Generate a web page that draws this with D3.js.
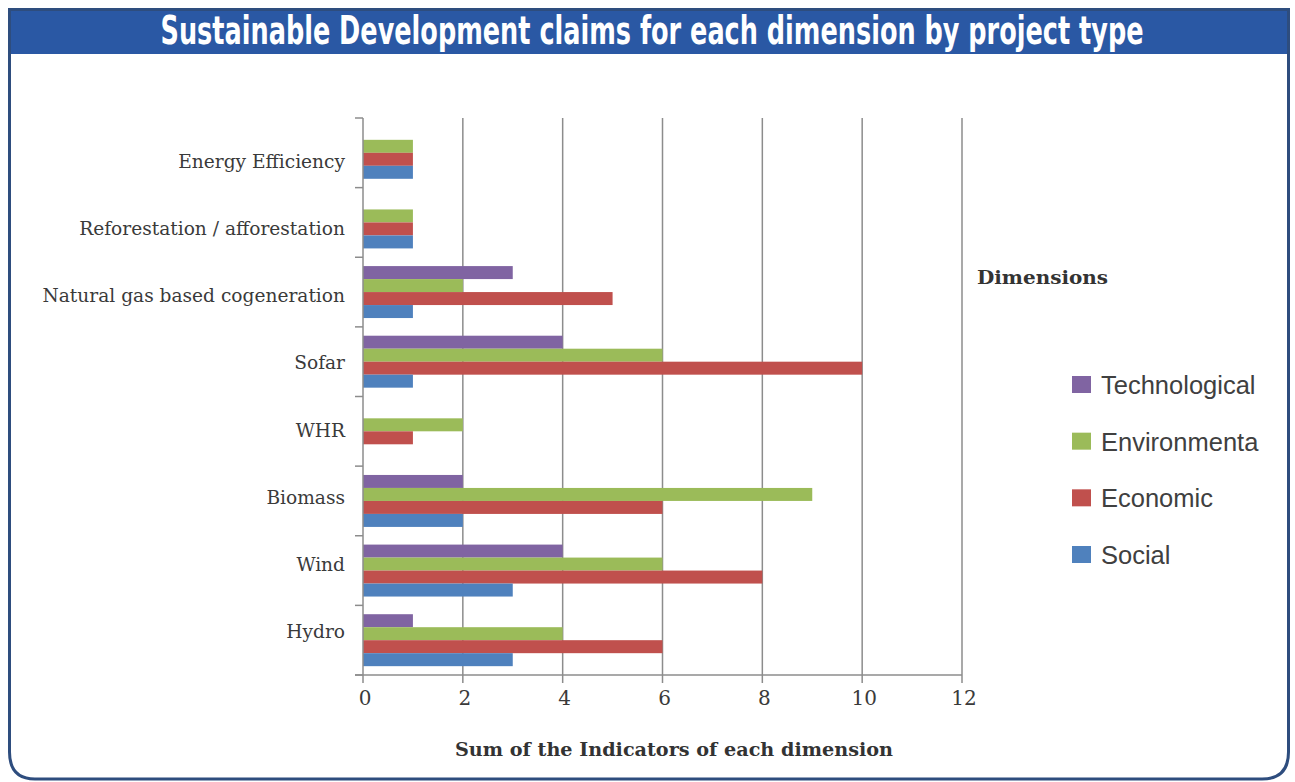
<!DOCTYPE html>
<html>
<head>
<meta charset="utf-8">
<script src="https://cdn.jsdelivr.net/npm/d3@7"></script>
<style>
  body { margin: 0; background: #fff; }
  svg { display: block; }
</style>
</head>
<body>
<svg id="chart" width="1295" height="782"></svg>
<script>
// project types, top to bottom
const projects = ["Energy Efficiency", "Reforestation / afforestation", "Natural gas based cogeneration",
                  "Sofar", "WHR", "Biomass", "Wind", "Hydro"];
// dimensions, in the legend's order (top bar first)
const dimensions = ["Technological", "Environmenta", "Economic", "Social"];
const technological = [0, 0, 3, 4, 0, 2, 4, 1];
const environmental = [1, 1, 2, 6, 2, 9, 6, 4];
const economic      = [1, 1, 5, 10, 1, 6, 8, 6];
const social        = [1, 1, 1, 1, 0, 2, 3, 3];
const xTicks = [0, 2, 4, 6, 8, 10, 12];
const colors = ["#8064a2", "#9bbb59", "#c0504d", "#4f81bd"];

const series = [technological, environmental, economic, social];

const svg = d3.select("#chart");

// frame with rounded bottom corners
svg.append("path")
  .attr("d", "M9.5,9.5 H1288.5 V752 Q1288.5,779 1262,779 H35 Q9.5,779 9.5,752 Z")
  .attr("fill", "#fff")
  .attr("stroke", "#2e4d7e")
  .attr("stroke-width", 3);

svg.append("rect")
  .attr("x", 11).attr("y", 11).attr("width", 1276).attr("height", 43)
  .attr("fill", "#2a58a4");

// condensed title: smaller font stretched vertically
svg.append("text")
  .attr("transform", "translate(652,44) scale(1,1.42)")
  .attr("text-anchor", "middle")
  .attr("fill", "#fff")
  .attr("font-family", "'DejaVu Sans Condensed', 'DejaVu Sans', sans-serif")
  .attr("font-stretch", "condensed")
  .attr("font-weight", "bold")
  .attr("font-size", 27)
  .attr("textLength", 983)
  .attr("lengthAdjust", "spacingAndGlyphs")
  .text("Sustainable Development claims for each dimension by project type");

const x = d3.scaleLinear().domain([0, 12]).range([363, 962]);
const y = d3.scaleBand().domain(projects).range([118, 675]).paddingInner(0).paddingOuter(0);
const inner = d3.scaleBand().domain(dimensions).range([0, y.bandwidth()]).paddingOuter(0.68);
// Excel spaces the category labels a little tighter than the bands
const labelY = d3.scalePoint().domain(projects).range([161, 631]);

// vertical gridlines
svg.append("g")
  .selectAll("line")
  .data(xTicks.filter(d => d > 0))
  .join("line")
  .attr("x1", d => x(d)).attr("x2", d => x(d))
  .attr("y1", 118).attr("y2", 675)
  .attr("stroke", "#8c8c8c").attr("stroke-width", 1.5);

// bars
const groups = svg.append("g")
  .selectAll("g")
  .data(projects)
  .join("g")
  .attr("transform", d => `translate(0,${y(d)})`);

groups.selectAll("rect")
  .data((p, i) => dimensions.map((dim, k) => ({ dim, k, v: series[k][i] })))
  .join("rect")
  .attr("x", x(0))
  .attr("y", d => inner(d.dim))
  .attr("width", d => x(d.v) - x(0))
  .attr("height", inner.bandwidth())
  .attr("fill", d => colors[d.k]);

// category axis
const yAxis = svg.append("g")
  .attr("transform", `translate(${x(0)},0)`);
yAxis.append("line")
  .attr("x1", 0).attr("x2", 0).attr("y1", 118).attr("y2", 675)
  .attr("stroke", "#8c8c8c").attr("stroke-width", 1.5);
yAxis.selectAll("line.tick")
  .data(projects.map(p => y(p)).concat([675]))
  .join("line")
  .attr("class", "tick")
  .attr("x1", -8).attr("x2", 0)
  .attr("y1", d => d).attr("y2", d => d)
  .attr("stroke", "#8c8c8c").attr("stroke-width", 1.5);
yAxis.selectAll("text")
  .data(projects)
  .join("text")
  .attr("x", -18)
  .attr("y", d => labelY(d) + 7)
  .attr("text-anchor", "end")
  .attr("fill", "#3a3a3a")
  .attr("font-family", "'DejaVu Serif', serif")
  .attr("font-size", 18.6)
  .text(d => d);

// value axis
const xAxis = svg.append("g").attr("transform", "translate(0,675)");
xAxis.append("line")
  .attr("x1", x(0) - 8).attr("x2", x(12)).attr("y1", 0).attr("y2", 0)
  .attr("stroke", "#8c8c8c").attr("stroke-width", 1.5);
xAxis.selectAll("line.tick")
  .data(xTicks)
  .join("line")
  .attr("class", "tick")
  .attr("x1", d => x(d)).attr("x2", d => x(d))
  .attr("y1", 0).attr("y2", 8)
  .attr("stroke", "#8c8c8c").attr("stroke-width", 1.5);
xAxis.selectAll("text")
  .data(xTicks)
  .join("text")
  .attr("x", d => x(d) + 2)
  .attr("y", 30)
  .attr("text-anchor", "middle")
  .attr("fill", "#3a3a3a")
  .attr("font-family", "'DejaVu Serif', serif")
  .attr("font-size", 20)
  .text(d => d);

svg.append("text")
  .attr("x", 674).attr("y", 756)
  .attr("text-anchor", "middle")
  .attr("fill", "#333")
  .attr("font-family", "'DejaVu Serif', serif")
  .attr("font-weight", "bold")
  .attr("font-size", 18)
  .attr("textLength", 438)
  .attr("lengthAdjust", "spacingAndGlyphs")
  .text("Sum of the Indicators of each dimension");

// legend
svg.append("text")
  .attr("x", 977).attr("y", 284)
  .attr("fill", "#333")
  .attr("font-family", "'DejaVu Serif', serif")
  .attr("font-weight", "bold")
  .attr("font-size", 18)
  .attr("textLength", 131)
  .attr("lengthAdjust", "spacingAndGlyphs")
  .text("Dimensions");

const legendY = d3.scalePoint().domain(dimensions).range([385, 555]);
const legend = svg.append("g")
  .selectAll("g")
  .data(dimensions)
  .join("g")
  .attr("transform", d => `translate(1072,${legendY(d)})`);
legend.append("rect")
  .attr("x", 0).attr("y", -9).attr("width", 19).attr("height", 17)
  .attr("fill", (d, i) => colors[i]);
legend.append("text")
  .attr("x", 29).attr("y", 9)
  .attr("fill", "#404040")
  .attr("font-family", "'Liberation Sans', Arial, sans-serif")
  .attr("font-size", 25.5)
  .text(d => d);
</script>
</body>
</html>
